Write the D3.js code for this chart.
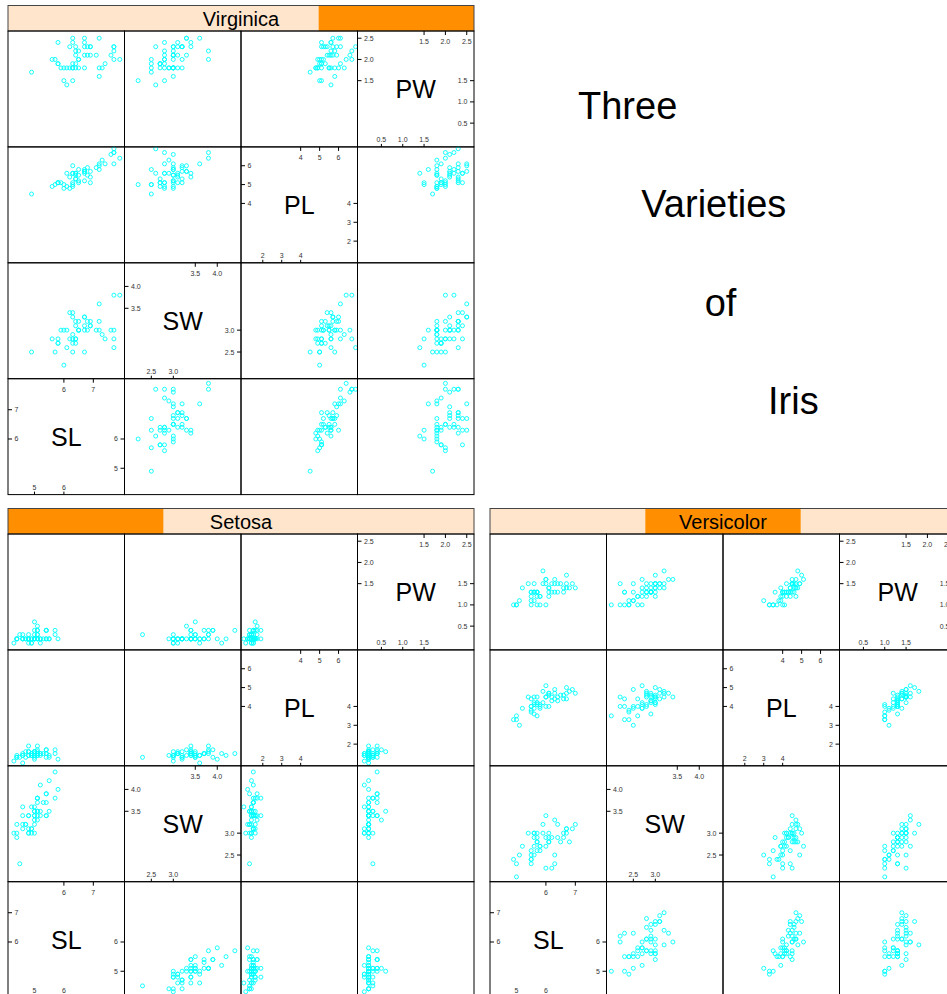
<!DOCTYPE html>
<html><head><meta charset="utf-8">
<script src="https://cdn.jsdelivr.net/npm/d3@7"></script>
<style>html,body{margin:0;padding:0;background:#fff;overflow:hidden}
text{font-family:"Liberation Sans",Arial,Helvetica,sans-serif}</style>
</head><body><svg id="chart" width="947" height="994"></svg>
<script>
// ---- data (Edgar Anderson's iris data) ----
const varNames = ["SL", "SW", "PL", "PW"];
const species = ["Setosa", "Versicolor", "Virginica"];
const titleWords = ["Three", "Varieties", "of", "Iris"];

const setosaSL = [5.1,4.9,4.7,4.6,5.0,5.4,4.6,5.0,4.4,4.9,5.4,4.8,4.8,4.3,5.8,5.7,5.4,5.1,5.7,5.1,5.4,5.1,4.6,5.1,4.8,5.0,5.0,5.2,5.2,4.7,4.8,5.4,5.2,5.5,4.9,5.0,5.5,4.9,4.4,5.1,5.0,4.5,4.4,5.0,5.1,4.8,5.1,4.6,5.3,5.0];
const setosaSW = [3.5,3.0,3.2,3.1,3.6,3.9,3.4,3.4,2.9,3.1,3.7,3.4,3.0,3.0,4.0,4.4,3.9,3.5,3.8,3.8,3.4,3.7,3.6,3.3,3.4,3.0,3.4,3.5,3.4,3.2,3.1,3.4,4.1,4.2,3.1,3.2,3.5,3.6,3.0,3.4,3.5,2.3,3.2,3.5,3.8,3.0,3.8,3.2,3.7,3.3];
const setosaPL = [1.4,1.4,1.3,1.5,1.4,1.7,1.4,1.5,1.4,1.5,1.5,1.6,1.4,1.1,1.2,1.5,1.3,1.4,1.7,1.5,1.7,1.5,1.0,1.7,1.9,1.6,1.6,1.5,1.4,1.6,1.6,1.5,1.5,1.4,1.5,1.2,1.3,1.4,1.3,1.5,1.3,1.3,1.3,1.6,1.9,1.4,1.6,1.4,1.5,1.4];
const setosaPW = [0.2,0.2,0.2,0.2,0.2,0.4,0.3,0.2,0.2,0.1,0.2,0.2,0.1,0.1,0.2,0.4,0.4,0.3,0.3,0.3,0.2,0.4,0.2,0.5,0.2,0.2,0.4,0.2,0.2,0.2,0.2,0.4,0.1,0.2,0.2,0.2,0.2,0.1,0.2,0.2,0.3,0.3,0.2,0.6,0.4,0.3,0.2,0.2,0.2,0.2];

const versicolorSL = [7.0,6.4,6.9,5.5,6.5,5.7,6.3,4.9,6.6,5.2,5.0,5.9,6.0,6.1,5.6,6.7,5.6,5.8,6.2,5.6,5.9,6.1,6.3,6.1,6.4,6.6,6.8,6.7,6.0,5.7,5.5,5.5,5.8,6.0,5.4,6.0,6.7,6.3,5.6,5.5,5.5,6.1,5.8,5.0,5.6,5.7,5.7,6.2,5.1,5.7];
const versicolorSW = [3.2,3.2,3.1,2.3,2.8,2.8,3.3,2.4,2.9,2.7,2.0,3.0,2.2,2.9,2.9,3.1,3.0,2.7,2.2,2.5,3.2,2.8,2.5,2.8,2.9,3.0,2.8,3.0,2.9,2.6,2.4,2.4,2.7,2.7,3.0,3.4,3.1,2.3,3.0,2.5,2.6,3.0,2.6,2.3,2.7,3.0,2.9,2.9,2.5,2.8];
const versicolorPL = [4.7,4.5,4.9,4.0,4.6,4.5,4.7,3.3,4.6,3.9,3.5,4.2,4.0,4.7,3.6,4.4,4.5,4.1,4.5,3.9,4.8,4.0,4.9,4.7,4.3,4.4,4.8,5.0,4.5,3.5,3.8,3.7,3.9,5.1,4.5,4.5,4.7,4.4,4.1,4.0,4.4,4.6,4.0,3.3,4.2,4.2,4.2,4.3,3.0,4.1];
const versicolorPW = [1.4,1.5,1.5,1.3,1.5,1.3,1.6,1.0,1.3,1.4,1.0,1.5,1.0,1.4,1.3,1.4,1.5,1.0,1.5,1.1,1.8,1.3,1.5,1.2,1.3,1.4,1.4,1.7,1.5,1.0,1.1,1.0,1.2,1.6,1.5,1.6,1.5,1.3,1.3,1.3,1.2,1.4,1.2,1.0,1.3,1.2,1.3,1.3,1.1,1.3];

const virginicaSL = [6.3,5.8,7.1,6.3,6.5,7.6,4.9,7.3,6.7,7.2,6.5,6.4,6.8,5.7,5.8,6.4,6.5,7.7,7.7,6.0,6.9,5.6,7.7,6.3,6.7,7.2,6.2,6.1,6.4,7.2,7.4,7.9,6.4,6.3,6.1,7.7,6.3,6.4,6.0,6.9,6.7,6.9,5.8,6.8,6.7,6.7,6.3,6.5,6.2,5.9];
const virginicaSW = [3.3,2.7,3.0,2.9,3.0,3.0,2.5,2.9,2.5,3.6,3.2,2.7,3.0,2.5,2.8,3.2,3.0,3.8,2.6,2.2,3.2,2.8,2.8,2.7,3.3,3.2,2.8,3.0,2.8,3.0,2.8,3.8,2.8,2.8,2.6,3.0,3.4,3.1,3.0,3.1,3.1,3.1,2.7,3.2,3.3,3.0,2.5,3.0,3.4,3.0];
const virginicaPL = [6.0,5.1,5.9,5.6,5.8,6.6,4.5,6.3,5.8,6.1,5.1,5.3,5.5,5.0,5.1,5.3,5.5,6.7,6.9,5.0,5.7,4.9,6.7,4.9,5.7,6.0,4.8,4.9,5.6,5.8,6.1,6.4,5.6,5.1,5.6,6.1,5.6,5.5,4.8,5.4,5.6,5.1,5.1,5.9,5.7,5.2,5.0,5.2,5.4,5.1];
const virginicaPW = [2.5,1.9,2.1,1.8,2.2,2.1,1.7,1.8,1.8,2.5,2.0,1.9,2.1,2.0,2.4,2.3,1.8,2.2,2.3,1.5,2.3,2.0,2.0,1.8,2.1,1.8,1.8,1.8,2.1,1.6,1.9,2.0,2.2,1.5,1.4,2.3,2.4,1.8,1.8,2.1,2.4,2.3,1.9,2.3,2.5,2.3,1.9,2.0,2.3,1.8];

// axis ticks of the diagonal panels (lower half: bottom/right, upper half: top/left)
const ticksLow  = [[5, 6], [2.5, 3.0], [2, 3, 4], [0.5, 1.0, 1.5]];
const ticksHigh = [[6, 7], [3.5, 4.0], [4, 5, 6], [1.5, 2.0, 2.5]];
const tickFormats = ["d", ".1f", "d", ".1f"];
const varDomains = [[4.1, 8.06], [1.89, 4.54], [0.85, 7.0], [-0.06, 2.67]];

// ---- layout ----
const svg = d3.select("#chart");
const cellW = 116.5, cellH = 115.9, stripH = 25.5;
const panelData = {
  Setosa: [setosaSL, setosaSW, setosaPL, setosaPW],
  Versicolor: [versicolorSL, versicolorSW, versicolorPL, versicolorPW],
  Virginica: [virginicaSL, virginicaSW, virginicaPL, virginicaPW]
};
const panelPos = { Setosa: [8, 508.5], Versicolor: [490, 508.5], Virginica: [8, 5.5] };

species.forEach(name => {
  const [px, py] = panelPos[name];
  const cols = panelData[name];
  const W = cellW * 4;
  const g = svg.append("g").attr("transform", `translate(${px},${py})`);

  // strip
  const lev = d3.scaleBand().domain(species).range([0, W]);
  g.append("rect").attr("width", W).attr("height", stripH).attr("fill", "#FFE5CC");
  g.append("rect").attr("x", lev(name)).attr("width", lev.bandwidth()).attr("height", stripH).attr("fill", "#FF8F00");
  g.append("rect").attr("width", W).attr("height", stripH).attr("fill", "none").attr("stroke", "#444").attr("stroke-width", 1);
  g.append("text").attr("x", W / 2).attr("y", stripH - 5).attr("text-anchor", "middle")
    .attr("font-size", 20).attr("fill", "#000").text(name);

  const grid = g.append("g").attr("transform", `translate(0,${stripH})`);
  for (let r = 0; r < 4; r++) {
    for (let c = 0; c < 4; c++) {
      const yi = 3 - r, xi = c;
      const cell = grid.append("g").attr("transform", `translate(${c * cellW},${r * cellH})`);
      const xs = d3.scaleLinear().domain(varDomains[xi]).range([0, cellW]);
      const ys = d3.scaleLinear().domain(varDomains[yi]).range([cellH, 0]);
      if (xi === yi) {
        const v = xi, fmt = d3.format(tickFormats[v]);
        const U = ticksHigh[v], L = ticksLow[v];
        const tk = cell.append("g").attr("stroke", "#000").attr("stroke-width", 1);
        const lb = cell.append("g").attr("font-size", 7).attr("fill", "#333");
        // top
        tk.selectAll(null).data(U).join("line")
          .attr("x1", d => xs(d)).attr("x2", d => xs(d)).attr("y1", 0).attr("y2", 4);
        lb.selectAll(null).data(U).join("text").attr("text-anchor", "middle")
          .attr("x", d => xs(d)).attr("y", 13.2).text(fmt);
        // left
        tk.selectAll(null).data(U).join("line")
          .attr("y1", d => ys(d)).attr("y2", d => ys(d)).attr("x1", 0).attr("x2", 4);
        lb.selectAll(null).data(U).join("text").attr("text-anchor", "start")
          .attr("x", 6.5).attr("y", d => ys(d) + 2.5).text(fmt);
        // right
        tk.selectAll(null).data(L).join("line")
          .attr("y1", d => ys(d)).attr("y2", d => ys(d)).attr("x1", cellW - 4).attr("x2", cellW);
        lb.selectAll(null).data(L).join("text").attr("text-anchor", "end")
          .attr("x", cellW - 6.5).attr("y", d => ys(d) + 2.5).text(fmt);
        // bottom
        tk.selectAll(null).data(L).join("line")
          .attr("x1", d => xs(d)).attr("x2", d => xs(d)).attr("y1", cellH - 3).attr("y2", cellH);
        lb.selectAll(null).data(L).join("text").attr("text-anchor", "middle")
          .attr("x", d => xs(d)).attr("y", cellH - 4.5).text(fmt);
        cell.append("text").attr("x", cellW / 2).attr("y", cellH / 2 + 9)
          .attr("text-anchor", "middle").attr("font-size", 25).attr("fill", "#000").text(varNames[v]);
      } else {
        const pts = d3.range(cols[0].length);
        cell.selectAll(null).data(pts).join("circle")
          .attr("cx", i => xs(cols[xi][i])).attr("cy", i => ys(cols[yi][i])).attr("r", 2)
          .attr("fill", "none").attr("stroke", "#00FFFF").attr("stroke-width", 0.9);
      }
      cell.append("rect").attr("width", cellW).attr("height", cellH)
        .attr("fill", "none").attr("stroke", "#000").attr("stroke-width", 1);
    }
  }
});

// page annotation
const tx = d3.scaleLinear().domain([0, titleWords.length - 1]).range([578, 768]);
const ty = d3.scaleLinear().domain([0, titleWords.length - 1]).range([119, 414]);
svg.append("g").selectAll("text").data(titleWords).join("text")
  .attr("x", (d, i) => tx(i)).attr("y", (d, i) => ty(i))
  .attr("font-size", 38).attr("fill", "#000").text(d => d);
</script></body></html>
